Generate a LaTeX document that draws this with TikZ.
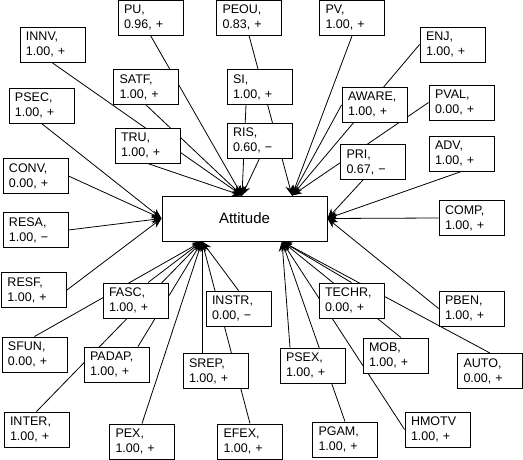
\documentclass[tikz,border=0pt]{standalone}
\usepackage{fontspec}
\setmainfont{Liberation Sans}
\usetikzlibrary{arrows.meta,backgrounds}
\begin{document}
\begin{tikzpicture}[x=1pt,y=-1pt, every node/.style={font=\fontsize{12.5}{15}\selectfont},
  f/.style={draw,fill=white,line width=0.9pt,minimum width=65pt,minimum height=35pt,text width=53pt,inner xsep=6pt,inner ysep=2pt,align=left},
  c/.style={line width=0.8pt,-{Stealth[length=10pt,width=8pt]}}]
\useasboundingbox (0,0) rectangle (523,460);
\node[draw,fill=white,line width=0.9pt,minimum width=165pt,minimum height=45pt,font=\fontsize{15}{18}\selectfont] (att) at (244.5,218.5) {Attitude};
\coordinate (tl) at ([xshift=-2.5pt]att.north);
\coordinate (tr) at ([xshift=47.5pt]att.north);
\coordinate (bl) at ([xshift=-42.5pt]att.south);
\coordinate (br) at ([xshift=37.5pt]att.south);
% top row
\node[f] (pu) at (150.5,17.5) {PU,\\0.96, +};
\node[f] (peou) at (249,17.5) {PEOU,\\0.83, +};
\node[f] (pv) at (352,18) {PV,\\1.00, +};
\node[f] (innv) at (52.5,45) {INNV,\\1.00, +};
\node[f] (enj) at (452.5,44.5) {ENJ,\\1.00, +};
\node[f] (satf) at (146,87) {SATF,\\1.00, +};
\node[f] (si) at (259.5,87) {SI,\\1.00, +};
\node[f] (psec) at (41.5,105.5) {PSEC,\\1.00, +};
\node[f] (aware) at (374.5,105) {AWARE,\\1.00, +};
\node[f] (pval) at (461.5,102.5) {PVAL,\\0.00, +};
\node[f] (tru) at (147.5,145.5) {TRU,\\1.00, +};
\node[f] (ris) at (259.5,140.5) {RIS,\\0.60, −};
\node[f] (pri) at (373,162) {PRI,\\0.67, −};
\node[f] (adv) at (461.5,153.5) {ADV,\\1.00, +};
% sides
\node[f] (conv) at (35.5,176) {CONV,\\0.00, +};
\node[f] (comp) at (471.5,218) {COMP,\\1.00, +};
\node[f] (resa) at (35.5,230) {RESA,\\1.00, −};
\node[f] (resf) at (34,290) {RESF,\\1.00, +};
\node[f] (pben) at (471.5,308.5) {PBEN,\\1.00, +};
% bottom
\node[f] (fasc) at (135.5,300.5) {FASC,\\1.00, +};
\node[f] (instr) at (238.5,308.5) {INSTR,\\0.00, −};
\node[f] (techr) at (351.5,300.5) {TECHR,\\0.00, +};
\node[f] (sfun) at (34.5,354.5) {SFUN,\\0.00, +};
\node[f] (padap) at (116.5,364.5) {PADAP,\\1.00, +};
\node[f] (srep) at (215.5,371) {SREP,\\1.00, +};
\node[f] (psex) at (312.5,365.5) {PSEX,\\1.00, +};
\node[f] (mob) at (395.5,355.5) {MOB,\\1.00, +};
\node[f] (auto) at (490,371) {AUTO,\\0.00, +};
\node[f] (inter) at (36.5,429.5) {INTER,\\1.00, +};
\node[f] (pex) at (142,441.5) {PEX,\\1.00, +};
\node[f] (efex) at (250,441.5) {EFEX,\\1.00, +};
\node[f] (pgam) at (345,439.5) {PGAM,\\1.00, +};
\node[f] (hmotv) at (437.5,429.5) {HMOTV\\1.00, +};
\begin{scope}[on background layer]
% into the top
\draw[c] (innv.south) -- (tl);
\draw[c] (pu.south) -- (tl);
\draw[c] (satf.south) -- (tl);
\draw[c] (tru.south) -- (tl);
\draw[c] ([xshift=-13.5pt]si.south) -- (tl);
\draw[c] (ris.south) -- (tl);
\draw[c] (peou.south) -- (tr);
\draw[c] (pv.south) -- (tr);
\draw[c] (aware.west) -- (tr);
\draw[c] (enj.west) -- (tr);
\draw[c] (pval.west) -- (tr);
% into the sides
\draw[c] ([xshift=-10pt]pri.south) -- (att.east);
\draw[c] (adv.south) -- (att.east);
\draw[c] (comp.west) -- (att.east);
\draw[c] (pben.west) -- (att.east);
\draw[c] (psec.south) -- (att.west);
\draw[c] (conv.east) -- (att.west);
\draw[c] (resa.east) -- (att.west);
\draw[c] (resf.east) -- (att.west);
% into the bottom
\draw[c] (sfun.north) -- (bl);
\draw[c] (inter.north) -- (bl);
\draw[c] ([xshift=21.5pt]padap.north) -- (bl);
\draw[c] ([xshift=12.5pt]fasc.north) -- (bl);
\draw[c] (pex.north) -- (bl);
\draw[c] ([xshift=-13.5pt]srep.north) -- (bl);
\draw[c] (instr.north) -- (bl);
\draw[c] (efex.north) -- (bl);
\draw[c] ([xshift=-22.5pt]psex.north) -- (br);
\draw[c] (pgam.north) -- (br);
\draw[c] (hmotv.west) -- (br);
\draw[c] ([xshift=5.5pt]mob.north) -- (br);
\draw[c] (techr.north) -- (br);
\draw[c] (auto.north) -- (br);
\end{scope}
\end{tikzpicture}
\end{document}
